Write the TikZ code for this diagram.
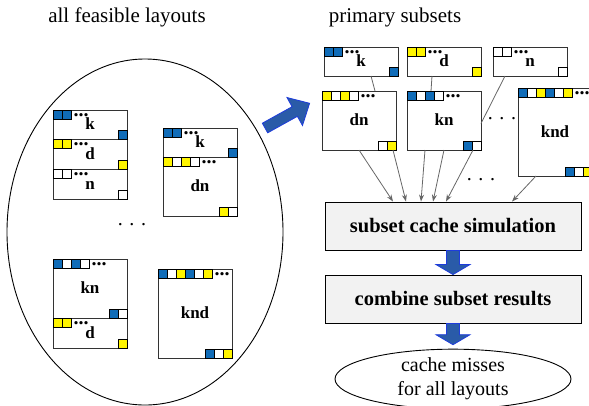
\documentclass[tikz,border=0pt]{standalone}
\usepackage{fontspec}
\setmainfont{Liberation Serif}
\usetikzlibrary{calc,arrows.meta,shapes.geometric}

\definecolor{sqblue}{RGB}{16,108,184}
\definecolor{sqyellow}{RGB}{255,245,0}
\definecolor{arrowfill}{RGB}{42,91,168}
\definecolor{arrowline}{RGB}{30,60,220}
\definecolor{boxgray}{RGB}{242,242,242}

\tikzset{
  lay/.style={draw=black!80, line width=0.9pt, minimum width=74pt, inner sep=0pt, outer sep=0pt,
    text height=12pt, text depth=2pt, font={\fontsize{17}{20}\selectfont\bfseries}},
  sq/.style={draw=black, line width=0.8pt},
  moredots/.style={font={\fontsize{20}{20}\selectfont\bfseries}, inner sep=0pt, anchor=west},
  gapdots/.style={font={\fontsize{20}{24}\selectfont}, inner sep=0pt},
  headline/.style={font={\fontsize{21}{24}\selectfont}, anchor=base},
  stage/.style={draw=black, line width=0.9pt, fill=boxgray, minimum width=256pt, minimum height=48pt,
    font={\fontsize{20.5}{24}\selectfont\bfseries}},
  feed/.style={draw=black!60, line width=0.8pt},
  feedarrow/.style={feed, -{Stealth[length=7pt,width=5pt]}},
  blockarrow/.style={fill=arrowfill, draw=arrowline, line width=0.8pt},
}

\newcommand{\layoutbox}[5]{%
  \node[lay, minimum height=#4pt] (#1) at (#2+37,#3+#4/2) {#5};}
\newcommand{\topsq}[2]{%
  \foreach \c [count=\i from 0] in {#2}
    {\draw[sq, fill=\c] ($(#1.north west)+(\i*9,0)$) rectangle ++(9,9) coordinate (#1-end);}
  \node[moredots] at ($(#1-end)+(2.5,-4)$) {...};}
\newcommand{\botsq}[2]{%
  \foreach \c [count=\i] in {#2}
    {\draw[sq, fill=\c] ($(#1.south east)+(-\i*9,0)$) rectangle ++(9,-9);}}
\newcommand{\blockdown}[2]{%
  \draw[blockarrow] let \p1=(#1), \p2=(#2) in
    (\x1-6.5pt,\y1) -- (\x1+6.5pt,\y1) -- (\x1+6.5pt,\y2+10pt) -- (\x1+17pt,\y2+10pt)
    -- (\x1,\y2) -- (\x1-17pt,\y2+10pt) -- (\x1-6.5pt,\y2+10pt) -- cycle;}

\begin{document}
\begin{tikzpicture}[x=1pt,y=-1pt]
    \useasboundingbox (0,0) rectangle (589,405);

    \node[headline] (alltitle) at (127,22) {all feasible layouts};
    \node[headline] (subtitle) at (395,22) {primary subsets};

    \node[draw, line width=0.9pt, ellipse, minimum width=276pt, minimum height=346pt] (all) at (145,232) {};

    \layoutbox{ak1}{53}{110}{29}{k}
    \layoutbox{ad1}{53}{139}{30}{d}
    \layoutbox{an1}{53}{169}{30}{n}
    \topsq{ak1}{sqblue,sqblue}     \botsq{ak1}{sqblue}
    \topsq{ad1}{sqyellow,sqyellow} \botsq{ad1}{sqyellow}
    \topsq{an1}{white,white}       \botsq{an1}{white}

    \layoutbox{ak2}{163}{128}{29}{k}
    \layoutbox{adn2}{163}{157}{59}{dn}
    \topsq{ak2}{sqblue,sqblue}     \botsq{ak2}{sqblue}
    \topsq{adn2}{sqyellow,white,sqyellow,white} \botsq{adn2}{white,sqyellow}

    \layoutbox{akn3}{53}{259}{59}{kn}
    \layoutbox{ad3}{53}{318}{30}{d}
    \topsq{akn3}{sqblue,white,sqblue,white} \botsq{akn3}{white,sqblue}
    \topsq{ad3}{sqyellow,sqyellow} \botsq{ad3}{sqyellow}

    \layoutbox{aknd4}{158}{269}{89}{knd}
    \topsq{aknd4}{sqblue,white,sqyellow,sqblue,white,sqyellow} \botsq{aknd4}{sqyellow,white,sqblue}

    \node[gapdots] (gapa) at (132,225) {. . .};

    \begin{scope}[shift={(265,128)}, rotate=29]
        \draw[blockarrow] (0,-5.5) -- (34,-5.5) -- (34,-16) -- (51,0) -- (34,16) -- (34,5.5) -- (0,5.5) -- cycle;
    \end{scope}

    \layoutbox{pk}{324}{47}{29}{k}
    \layoutbox{pd}{407}{47}{29}{d}
    \layoutbox{pn}{493}{47}{29}{n}
    \topsq{pk}{sqblue,sqblue}     \botsq{pk}{sqblue}
    \topsq{pd}{sqyellow,sqyellow} \botsq{pd}{sqyellow}
    \topsq{pn}{white,white}       \botsq{pn}{white}

    \layoutbox{pdn}{322}{91}{59}{dn}
    \layoutbox{pkn}{407}{91}{59}{kn}
    \layoutbox{pknd}{518}{88}{88}{knd}
    \topsq{pdn}{sqyellow,white,sqyellow,white} \botsq{pdn}{sqyellow,white}
    \topsq{pkn}{sqblue,white,sqblue,white}     \botsq{pkn}{white,sqblue}
    \topsq{pknd}{sqblue,white,sqyellow,sqblue,white,sqyellow} \botsq{pknd}{sqyellow,white,sqblue}

    \draw[feed] ($(pk.south)+(10,0)$) -- ($(pdn.north)+(16,0)$);
    \draw[feed] ($(pd.south)+(-12,0)$) -- ($(pkn.north)+(-13,0)$);
    \draw[feed] ($(pn.south)+(-25,0)$) -- ($(pkn.east)+(0,3)$);

    \node[gapdots] (gapb) at (502,119) {. . .};
    \node[gapdots] (gapc) at (481,180) {. . .};

    \node[stage] (sim) at (453,226) {subset cache simulation};
    \node[stage] (comb) at (453,299) {combine subset results};
    \node[draw, ellipse, line width=0.9pt, minimum width=236pt, minimum height=56pt, inner sep=0pt,
        align=center, font={\fontsize{20}{24}\selectfont}] (miss) at (453,379) {cache misses\\for all layouts};

    \draw[feedarrow] (pdn.south) -- ($(sim.north)+(-60,0)$);
    \draw[feedarrow] ($(pdn.south)+(34,0)$) -- ($(sim.north)+(-47,0)$);
    \draw[feedarrow] ($(pkn.south)+(-19,0)$) -- ($(sim.north)+(-32,0)$);
    \draw[feedarrow] (pkn.south) -- ($(sim.north)+(-20,0)$);
    \draw[feedarrow] ($(pkn.south)+(29,0)$) -- ($(sim.north)+(-7,0)$);
    \draw[feedarrow] ($(pknd.south)+(-19,0)$) -- ($(sim.north)+(59,0)$);

    \blockdown{sim.south}{comb.north}
    \blockdown{comb.south}{$(miss.north)+(0,-4)$}
\end{tikzpicture}
\end{document}
